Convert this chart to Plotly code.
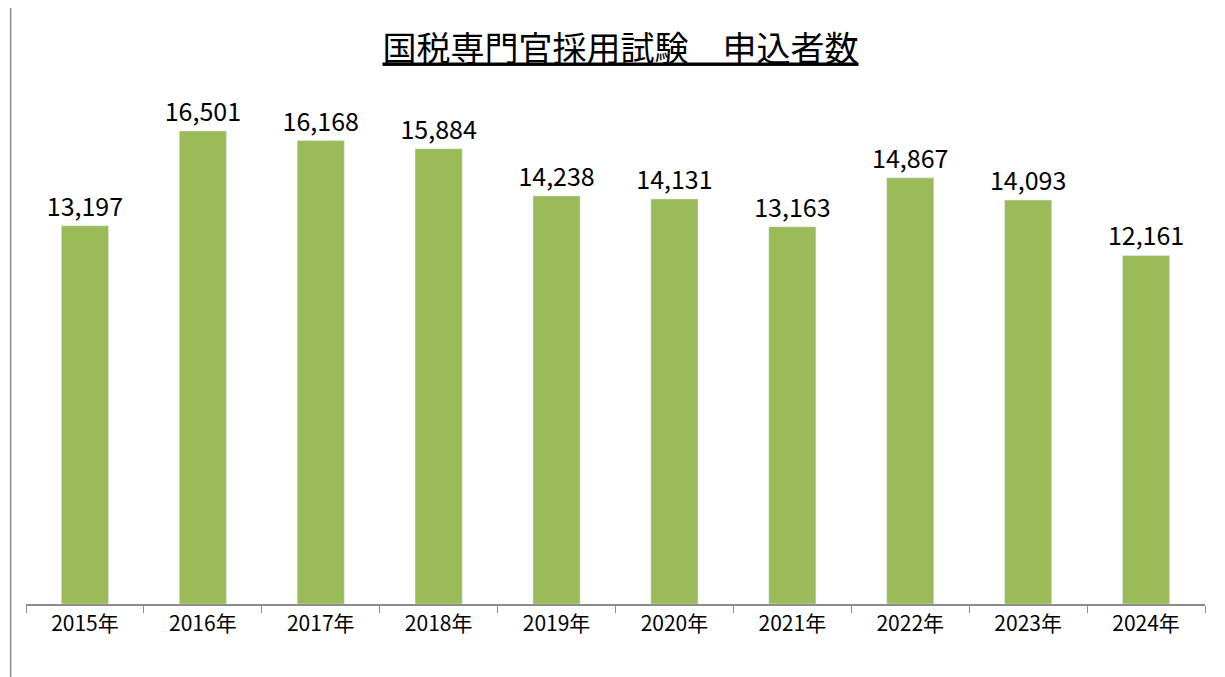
import plotly.graph_objects as go

years = ["2015年", "2016年", "2017年", "2018年", "2019年",
         "2020年", "2021年", "2022年", "2023年", "2024年"]
applicants = [13197, 16501, 16168, 15884, 14238, 14131, 13163, 14867, 14093, 12161]

font_family = "Noto Sans CJK JP, Noto Sans, sans-serif"

fig = go.Figure(go.Bar(
    x=years, y=applicants,
    marker_color="#9bbb59",
    text=[f"{v:,}" for v in applicants],
    textposition="outside",
    constraintext="none",
    textfont=dict(size=25, color="#000000", family=font_family),
    cliponaxis=False,
))

fig.update_layout(
    width=1225, height=677,
    paper_bgcolor="white", plot_bgcolor="white",
    margin=dict(l=18, r=28, t=60, b=81),
    bargap=0.6,
    showlegend=False,
    title=dict(text="<u>国税専門官採用試験　申込者数</u>",
               x=0.5, xanchor="center", y=0.94, yanchor="middle",
               font=dict(size=34, color="#000000", family=font_family)),
    font=dict(family=font_family),
    shapes=[dict(type="rect", xref="paper", yref="paper",
                 x0=-0.013, x1=1.022, y0=-0.14, y1=1.12,
                 line=dict(color="#8c8c8c", width=1.5))],
)
fig.update_xaxes(showline=True, linecolor="#8c8c8c", linewidth=1.5,
                 ticks="outside", tickson="boundaries", ticklen=7, tickcolor="#8c8c8c",
                 tickfont=dict(size=21, color="#000000"))
fig.update_yaxes(visible=False, range=[0, 18700], showgrid=False)

fig.write_html("out.html")
